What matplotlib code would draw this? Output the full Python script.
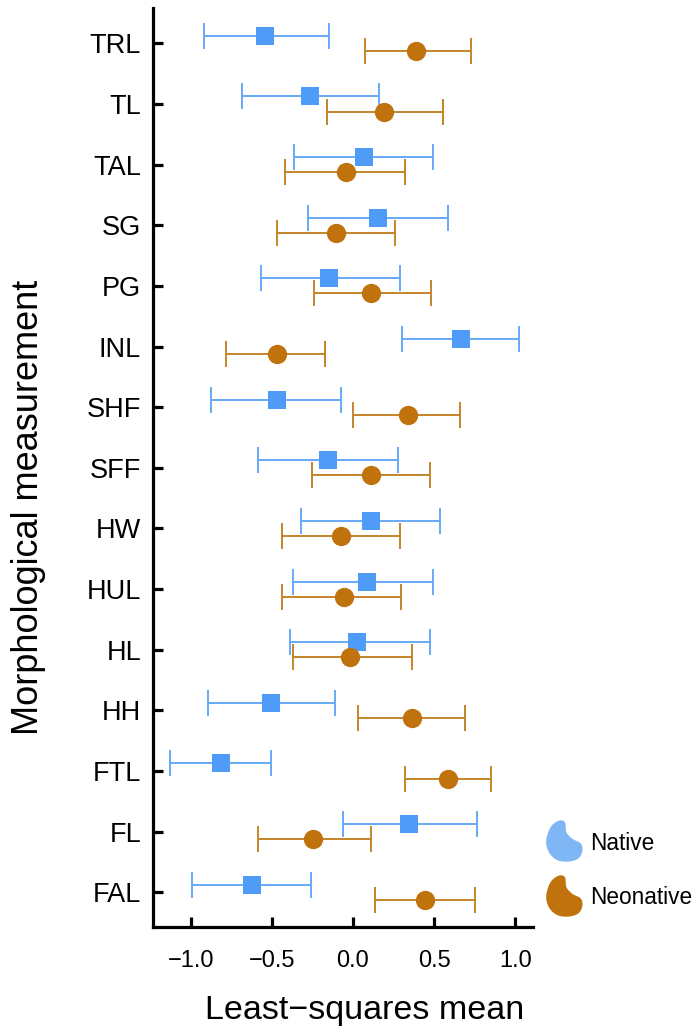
import numpy as np
import matplotlib
matplotlib.use("Agg")
import matplotlib.pyplot as plt
from matplotlib.path import Path
from matplotlib.lines import Line2D

plt.rcParams['font.family'] = ['Liberation Sans', 'DejaVu Sans']

# ---- data (top to bottom) ----
categories = ["TRL", "TL", "TAL", "SG", "PG", "INL", "SHF", "SFF",
              "HW", "HUL", "HL", "HH", "FTL", "FL", "FAL"]
native_mean = [-0.543, -0.263, 0.066, 0.152, -0.150, 0.665, -0.469, -0.152,
               0.109, 0.085, 0.025, -0.502, -0.815, 0.344, -0.621]
native_lo = [-0.918, -0.681, -0.366, -0.274, -0.568, 0.302, -0.875, -0.584,
             -0.323, -0.370, -0.389, -0.893, -1.125, -0.064, -0.994]
native_hi = [-0.148, 0.160, 0.494, 0.585, 0.290, 1.020, -0.074, 0.280,
             0.537, 0.492, 0.477, -0.109, -0.506, 0.767, -0.261]
neo_mean = [0.389, 0.191, -0.045, -0.105, 0.111, -0.471, 0.338, 0.113,
            -0.074, -0.057, -0.017, 0.362, 0.584, -0.245, 0.446]
neo_lo = [0.074, -0.162, -0.418, -0.469, -0.241, -0.780, 0.000, -0.251,
          -0.438, -0.438, -0.372, 0.031, 0.321, -0.588, 0.134]
neo_hi = [0.726, 0.556, 0.321, 0.261, 0.481, -0.173, 0.660, 0.475,
          0.288, 0.294, 0.364, 0.693, 0.848, 0.109, 0.751]
x_ticks = [-1.0, -0.5, 0.0, 0.5, 1.0]
group_labels = ["Native", "Neonative"]

blue = "#4e9cf7"
blue_err = "#66aaf7"
blue_leg = "#7fb6f6"
brown = "#c0720c"
brown_err = "#c4852a"

fig = plt.figure(figsize=(6.96, 10.30), dpi=100)
ax = fig.add_axes([0.2198, 0.1003, 0.546, 0.8919])

n = len(categories)
ypos = np.arange(n)[::-1].astype(float)
off = 0.125

nm = np.array(native_mean); nl = np.array(native_lo); nh = np.array(native_hi)
em = np.array(neo_mean); el = np.array(neo_lo); eh = np.array(neo_hi)

ax.errorbar(nm, ypos + off, xerr=[nm - nl, nh - nm], fmt='none',
            ecolor=blue_err, elinewidth=1.4, capsize=9.5, capthick=1.4, zorder=2)
ax.plot(nm, ypos + off, linestyle='none', marker='s', markersize=12.5,
        color=blue, markeredgewidth=0, zorder=3)
ax.errorbar(em, ypos - off, xerr=[em - el, eh - em], fmt='none',
            ecolor=brown_err, elinewidth=1.4, capsize=9.5, capthick=1.4, zorder=4)
ax.plot(em, ypos - off, linestyle='none', marker='o', markersize=13.9,
        color=brown, markeredgewidth=0, zorder=5)

ax.set_xlim(-1.232, 1.109)
ax.set_ylim(-0.567, n - 1 + 0.582)
ax.set_yticks(ypos)
ax.set_yticklabels(categories, fontsize=19.5)
ax.set_xticks(x_ticks)
ax.set_xticklabels(["\u2212" + f"{abs(v):.1f}" if v < 0 else f"{v:.1f}" for v in x_ticks],
                   fontsize=17)

for s in ['top', 'right']:
    ax.spines[s].set_visible(False)
for s in ['left', 'bottom']:
    ax.spines[s].set_linewidth(2.3)
    ax.spines[s].set_color('black')
    ax.spines[s].set_capstyle('projecting')

ax.tick_params(axis='both', direction='in', length=7.5, width=2.3, color='black')
ax.tick_params(axis='x', pad=17)
ax.tick_params(axis='y', pad=8.5)

ax.set_xlabel("Least\u2212squares mean", fontsize=24.5)
ax.xaxis.set_label_coords(0.558, -0.074)
ax.set_ylabel("Morphological measurement", fontsize=26)
ax.yaxis.set_label_coords(-0.282, 0.456)

# bean-shaped legend keys
bean_pts = [(0.35, 1.0), (0.52, 0.96), (0.56, 0.72), (0.72, 0.56), (0.96, 0.44),
            (1.0, 0.25), (0.88, 0.07), (0.6, 0.0), (0.3, 0.04), (0.08, 0.22),
            (0.0, 0.5), (0.12, 0.84)]
P = np.array(bean_pts)
pts = []
m = len(P)
for i in range(m):
    p0, p1, p2, p3 = P[i - 1], P[i], P[(i + 1) % m], P[(i + 2) % m]
    for t in np.linspace(0, 1, 12, endpoint=False):
        t2, t3 = t * t, t * t * t
        pts.append(0.5 * ((2 * p1) + (-p0 + p2) * t + (2 * p0 - 5 * p1 + 4 * p2 - p3) * t2
                          + (-p0 + 3 * p1 - 3 * p2 + p3) * t3))
pts = np.array(pts)
pts = pts - pts.mean(axis=0)
pts[:, 0] *= 0.88
verts = np.vstack([pts, pts[:1]])
codes = [Path.MOVETO] + [Path.LINETO] * (len(verts) - 2) + [Path.CLOSEPOLY]
bean = Path(verts, codes)

handles = [Line2D([], [], linestyle='none', marker=bean, markersize=32,
                  color=blue_leg, markeredgewidth=0),
           Line2D([], [], linestyle='none', marker=bean, markersize=32,
                  color=brown, markeredgewidth=0)]
fig.legend(handles, group_labels, loc='upper left', bbox_to_anchor=(0.783, 0.192),
           frameon=False, fontsize=16.3, labelspacing=1.38, handlelength=1.7,
           handletextpad=0.3, borderpad=0, borderaxespad=0)

fig.savefig("out.png", dpi=100)
